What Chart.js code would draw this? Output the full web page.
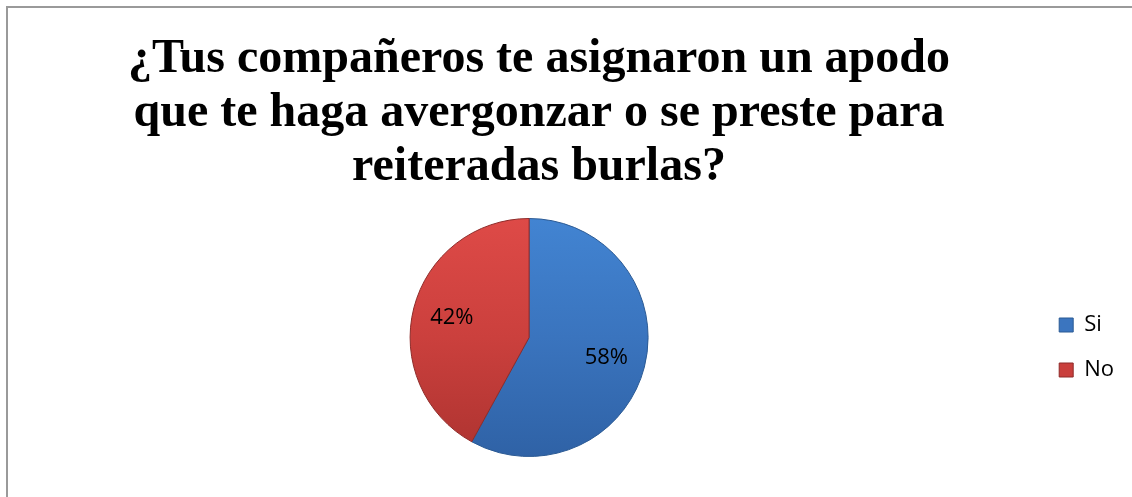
<!DOCTYPE html>
<html>
<head>
<meta charset="utf-8">
<script src="https://cdn.jsdelivr.net/npm/chart.js@4"></script>
<style>
  body { margin: 0; background: #fff; }
  #frame { position: absolute; left: 6px; top: 6px; width: 2000px; height: 2000px; border: 2px solid #9a9a9a; }
  #c { position: absolute; left: 0; top: 0; }
</style>
</head>
<body>
<div id="frame"></div>
<canvas id="c" width="1132" height="497"></canvas>
<script>
const categories = ["Si", "No"];
const values = [58, 42];
const titleLines = [
  "¿Tus compañeros te asignaron un apodo",
  "que te haga avergonzar o se preste para",
  "reiteradas burlas?"
];

const flatColors = ["#3b75bf", "#c93f3c"];
const edgeColors = ["#2b5a94", "#8e2b29"];

// vertical shading like the old Office bevel look
const sliceFill = (ctx) => {
  const area = ctx.chart.chartArea;
  if (!area) return flatColors[ctx.dataIndex];
  const g = ctx.chart.ctx.createLinearGradient(0, area.top, 0, area.bottom);
  if (ctx.dataIndex === 0) {
    g.addColorStop(0, "#4284d2");
    g.addColorStop(0.5, "#3a74be");
    g.addColorStop(1, "#2f62a6");
  } else {
    g.addColorStop(0, "#de4a47");
    g.addColorStop(0.5, "#cb403d");
    g.addColorStop(1, "#ad3330");
  }
  return g;
};

// percent labels inside the slices
const pctLabels = {
  id: "pctLabels",
  afterDatasetsDraw(chart) {
    const ctx = chart.ctx;
    const meta = chart.getDatasetMeta(0);
    ctx.save();
    ctx.font = '22px "Open Sans"';
    ctx.fillStyle = "#000";
    ctx.textAlign = "center";
    ctx.textBaseline = "middle";
    meta.data.forEach((arc, i) => {
      const p = arc.getProps(["x", "y", "startAngle", "endAngle", "outerRadius"], true);
      const mid = (p.startAngle + p.endAngle) / 2;
      const r = p.outerRadius * 0.67;
      ctx.fillText(values[i] + "%", p.x + Math.cos(mid) * r, p.y + Math.sin(mid) * r);
    });
    ctx.restore();
  }
};

// title sits a little left of the canvas centre
const titleShift = {
  id: "titleShift",
  afterLayout(chart) {
    const t = chart.titleBlock;
    t.left -= 34;
    t.right -= 34;
  }
};

new Chart(document.getElementById("c"), {
  type: "pie",
  data: {
    labels: categories,
    datasets: [{
      data: values,
      backgroundColor: sliceFill,
      borderColor: edgeColors,
      borderWidth: 1
    }]
  },
  plugins: [pctLabels, titleShift],
  options: {
    responsive: false,
    animation: false,
    layout: { padding: { top: 6, bottom: 40, left: 22, right: 8 } },
    plugins: {
      tooltip: { enabled: false },
      title: {
        display: true,
        text: titleLines,
        color: "#000",
        font: { family: '"Liberation Serif", "Times New Roman", serif', size: 48, weight: "bold", lineHeight: 1.125 },
        padding: { top: 27, bottom: 23 }
      },
      legend: {
        position: "right",
        fullSize: false,
        title: { display: true, text: "", font: { size: 10, lineHeight: 1.2 }, padding: 4 },
        labels: {
          boxWidth: 14,
          boxHeight: 14,
          padding: 23,
          color: "#000",
          font: { family: '"Open Sans"', size: 22 },
          generateLabels: (chart) => categories.map((name, i) => ({
            text: name,
            fillStyle: flatColors[i],
            strokeStyle: edgeColors[i],
            fontColor: "#000",
            lineWidth: 1,
            hidden: false,
            index: i
          }))
        }
      }
    }
  }
});
</script>
</body>
</html>
